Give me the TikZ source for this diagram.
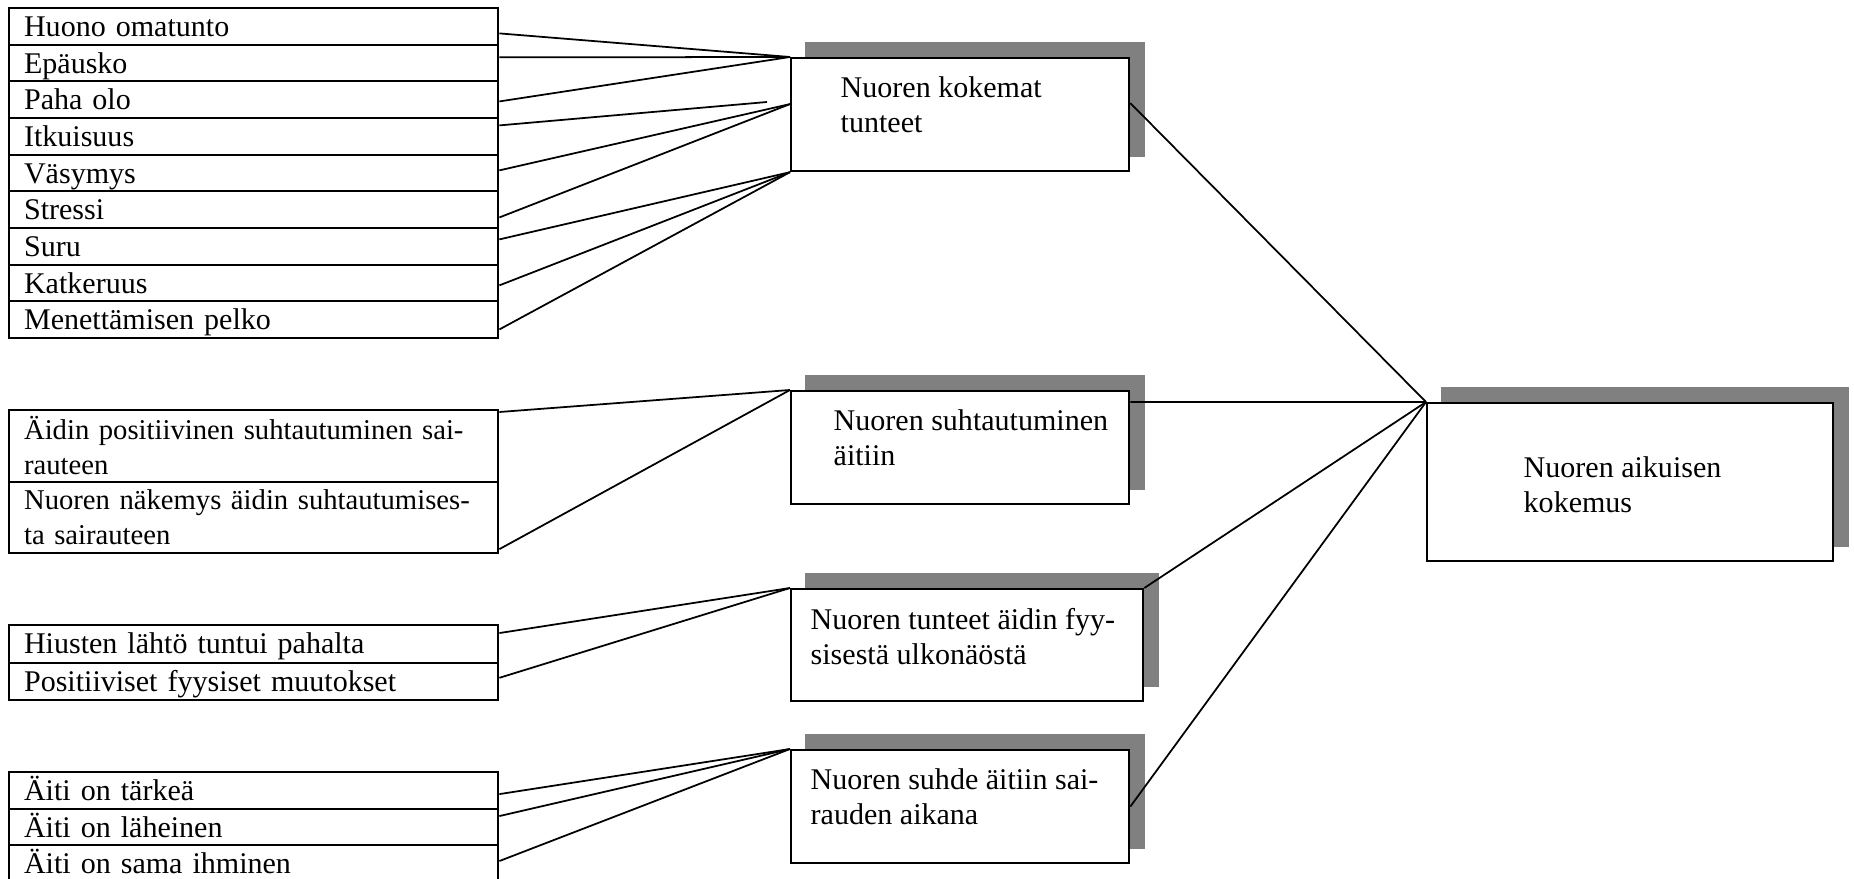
\documentclass[tikz,border=0pt]{standalone}
\usepackage{fontspec}
\setmainfont{Liberation Serif}
\usetikzlibrary{backgrounds}
\definecolor{shadowgray}{HTML}{808080}
\tikzset{
  every node/.style={font=\fontsize{8.54}{9.96}\selectfont},
  rowbase/.style={draw, line width=0.6pt, anchor=north west, text width=4.59cm, inner xsep=0.15cm, inner ysep=0pt, align=left},
  row/.style={rowbase, minimum height=0.3667cm, text height=7.7pt, text depth=2pt},
  rowb/.style={rowbase, minimum height=0.375cm, text height=7.7pt, text depth=2pt},
  tallrow/.style={rowbase, minimum height=0.715cm, font=\fontsize{8.15}{9.96}\selectfont},
  mainbox/.style={draw, line width=0.6pt, anchor=north west, fill=white, inner sep=0pt},
  shade/.style={fill=shadowgray},
  txt/.style={anchor=west, align=left, inner sep=0pt},
  link/.style={line width=0.5pt}
}
\begin{document}
\begin{tikzpicture}[x=0.01cm,y=-0.01cm]
\useasboundingbox (0,0) rectangle (1854,879);

% left group 1
\node[row] (r1) at (8,7) {Huono omatunto};
\node[row] (r2) at (8,43.67) {Epäusko};
\node[row] (r3) at (8,80.33) {Paha olo};
\node[row] (r4) at (8,117) {Itkuisuus};
\node[row] (r5) at (8,153.67) {Väsymys};
\node[row] (r6) at (8,190.33) {Stressi};
\node[row] (r7) at (8,227) {Suru};
\node[row] (r8) at (8,263.67) {Katkeruus};
\node[row] (r9) at (8,300.33) {Menettämisen pelko};

% left group 2
\node[tallrow] (a1) at (8,409) {Äidin positiivinen suhtautuminen sai-\\rauteen};
\node[tallrow] (a2) at (8,480.5) {Nuoren näkemys äidin suhtautumises-\\ta sairauteen};

% left group 3
\node[rowb] (h1) at (8,624) {Hiusten lähtö tuntui pahalta};
\node[rowb] (h2) at (8,661.5) {Positiiviset fyysiset muutokset};

% left group 4
\node[row] (e1) at (8,771) {Äiti on tärkeä};
\node[row] (e2) at (8,807.67) {Äiti on läheinen};
\node[row] (e3) at (8,844.33) {Äiti on sama ihminen};

% main boxes
\node[mainbox, minimum width=3.38cm, minimum height=1.13cm] (k1) at (790,57) {};
\node[mainbox, minimum width=3.38cm, minimum height=1.13cm] (k2) at (790,390) {};
\node[mainbox, minimum width=3.52cm, minimum height=1.12cm] (k3) at (790,588) {};
\node[mainbox, minimum width=3.38cm, minimum height=1.13cm] (k4) at (790,749) {};
\node[mainbox, minimum width=4.06cm, minimum height=1.58cm] (k5) at (1426,402) {};

\begin{scope}[on background layer]
\foreach \k in {k1,k2,k3,k4,k5}{
  \fill[shade] ([xshift=0.15cm,yshift=0.15cm]\k.south west) rectangle ([xshift=0.15cm,yshift=0.15cm]\k.north east);
}
\end{scope}

\node[txt] (k1t) at (840,104.5) {Nuoren kokemat\\tunteet};
\node[txt] (k2t) at (833,437.5) {Nuoren suhtautuminen\\äitiin};
\node[txt] (k3t) at (810,636.5) {Nuoren tunteet äidin fyy-\\sisestä ulkonäöstä};
\node[txt] (k4t) at (810,796.5) {Nuoren suhde äitiin sai-\\rauden aikana};
\node[txt] (k5t) at (1523,485) {Nuoren aikuisen\\kokemus};

\coordinate (itk) at (767,102);

% connectors group 1
\draw[link] ([yshift=-0.07cm]r1.east) -- (k1.north west);
\draw[link] ([yshift=0.057cm]r2.east) -- (k1.north west);
\draw[link] ([yshift=-0.017cm]r3.east) -- (k1.north west);
\draw[link] ([yshift=0.11cm]r4.east) -- (itk);
\draw[link] ([yshift=0.027cm]r5.east) -- ([yshift=0.105cm]k1.west);
\draw[link] ([yshift=-0.077cm]r6.east) -- ([yshift=0.105cm]k1.west);
\draw[link] ([yshift=0.07cm]r7.east) -- (k1.south west);
\draw[link] ([yshift=-0.023cm]r8.east) -- (k1.south west);
\draw[link] ([yshift=-0.097cm]r9.east) -- (k1.south west);

% group 2
\draw[link] ([yshift=-0.03cm]a1.north east) -- (k2.north west);
\draw[link] ([yshift=0.05cm]a2.south east) -- (k2.north west);

% group 3
\draw[link] ([yshift=0.1075cm]h1.east) -- (k3.north west);
\draw[link] ([yshift=0.035cm]h2.east) -- (k3.north west);

% group 4
\draw[link] ([yshift=-0.037cm]e1.east) -- (k4.north west);
\draw[link] ([yshift=0.11cm]e2.east) -- (k4.north west);
\draw[link] ([yshift=0.027cm]e3.east) -- (k4.north west);

% to final box
\draw[link] ([yshift=0.115cm]k1.east) -- (k5.north west);
\draw[link] ([yshift=-0.12cm]k2.north east) -- (k5.north west);
\draw[link] (k3.north east) -- (k5.north west);
\draw[link] (k4.east) -- (k5.north west);
\end{tikzpicture}
\end{document}
